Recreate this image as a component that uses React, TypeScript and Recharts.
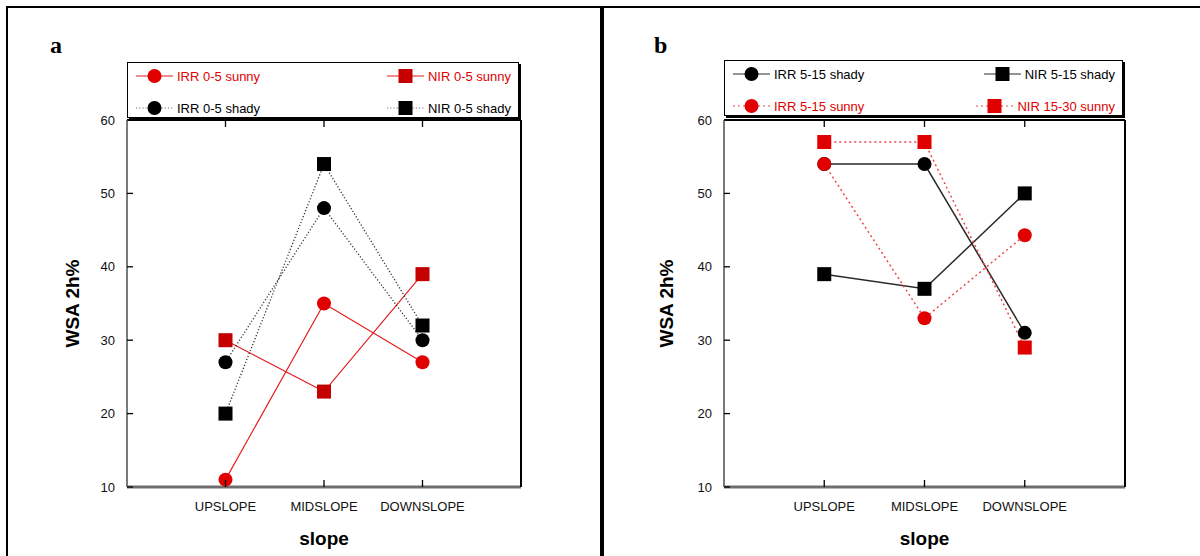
import React from 'react';
import { LineChart, Line, XAxis, YAxis, Legend } from 'recharts';

// categories along the slope, placed at 1..3 on a 0..4 axis
const slopeNames = ['UPSLOPE', 'MIDSLOPE', 'DOWNSLOPE'];
const slopeSteps = [1, 2, 3];
const wsaTicks = [10, 20, 30, 40, 50, 60];

// panel a (0-5 cm)
const irr05Sunny = [11, 35, 27];
const nir05Sunny = [30, 23, 39];
const irr05Shady = [27, 48, 30];
const nir05Shady = [20, 54, 32];

// panel b
const irr515Shady = [54, 54, 31];
const nir515Shady = [39, 37, 50];
const irr515Sunny = [54, 33, 44.3];
const nir1530Sunny = [57, 57, 29];

const SANS = '"Liberation Sans", Arial, sans-serif';
const RED = '#e00000';
const PLOT_TOP = 120;
const PLOT_BOTTOM = 487;

type SeriesDef = {
    key: string;
    name: string;
    values: number[];
    stroke: string;
    mark: string;
    shape: 'circle' | 'square';
    dash?: string;
    width: number;
    text: string;
};

const seriesA: SeriesDef[] = [
    { key: 'irr05Sunny', name: 'IRR 0-5 sunny', values: irr05Sunny, stroke: '#e41c1c', mark: RED, shape: 'circle', width: 1.2, text: RED },
    { key: 'nir05Sunny', name: 'NIR 0-5 sunny', values: nir05Sunny, stroke: '#e41c1c', mark: '#c40000', shape: 'square', width: 1.2, text: RED },
    { key: 'irr05Shady', name: 'IRR 0-5 shady', values: irr05Shady, stroke: '#333', mark: '#000', shape: 'circle', dash: '1.2 2', width: 1.3, text: '#000' },
    { key: 'nir05Shady', name: 'NIR 0-5 shady', values: nir05Shady, stroke: '#333', mark: '#000', shape: 'square', dash: '1.2 2', width: 1.3, text: '#000' },
];

const seriesB: SeriesDef[] = [
    { key: 'irr515Shady', name: 'IRR 5-15 shady', values: irr515Shady, stroke: '#2a2a2a', mark: '#000', shape: 'circle', width: 1.5, text: '#000' },
    { key: 'nir515Shady', name: 'NIR 5-15 shady', values: nir515Shady, stroke: '#2a2a2a', mark: '#000', shape: 'square', width: 1.5, text: '#000' },
    { key: 'irr515Sunny', name: 'IRR 5-15 sunny', values: irr515Sunny, stroke: '#f04848', mark: RED, shape: 'circle', dash: '2 3', width: 1.5, text: RED },
    { key: 'nir1530Sunny', name: 'NIR 15-30 sunny', values: nir1530Sunny, stroke: '#f04848', mark: RED, shape: 'square', dash: '2 3', width: 1.5, text: RED },
];

const buildRows = (series: SeriesDef[]) =>
    slopeSteps.map((x, i) => {
        const row: any = { x, name: slopeNames[i] };
        series.forEach((s) => {
            row[s.key] = s.values[i];
        });
        return row;
    });

const renderMark = (s: SeriesDef) => (p: any) => {
    const k = `${s.key}-${p.index}`;
    if (p.cx == null || p.cy == null) return <g key={k} />;
    return s.shape === 'circle' ? (
        <circle key={k} cx={p.cx} cy={p.cy} r={7} fill={s.mark} />
    ) : (
        <rect key={k} x={p.cx - 7} y={p.cy - 7} width={14} height={14} fill={s.mark} />
    );
};

// ticks point into the plot
const BottomTick = (props: any) => {
    const { x, y, payload } = props;
    return (
        <g>
            <line x1={x} y1={y} x2={x} y2={y - 7} stroke="#000" strokeWidth={1.3} />
            <text x={x} y={y + 24} textAnchor="middle" fontSize={13} fontFamily={SANS} fill="#111">
                {slopeNames[payload.value - 1]}
            </text>
        </g>
    );
};

const TopTick = (props: any) => {
    const { x, y } = props;
    return <line x1={x} y1={y} x2={x} y2={y + 7} stroke="#000" strokeWidth={1.3} />;
};

const LeftTick = (props: any) => {
    const { x, y, payload } = props;
    return (
        <g>
            <line x1={x} y1={y} x2={x + 6} y2={y} stroke="#000" strokeWidth={1.3} />
            <text x={x - 12} y={y + 4.5} textAnchor="end" fontSize={13} fontFamily={SANS} fill="#111">
                {payload.value}
            </text>
        </g>
    );
};

const RightTick = (props: any) => {
    const { x, y } = props;
    return <line x1={x} y1={y} x2={x - 6} y2={y} stroke="#000" strokeWidth={1.3} />;
};

const Sample = ({ s }: { s: SeriesDef }) => (
    <svg width={37} height={16} style={{ display: 'block' }}>
        <line x1={0} y1={8} x2={37} y2={8} stroke={s.dash ? (s.mark === RED ? '#f04848' : '#777') : s.stroke} strokeWidth={1.2} strokeDasharray={s.dash} />
        {s.shape === 'circle' ? (
            <circle cx={18.5} cy={8} r={7} fill={s.mark} />
        ) : (
            <rect x={11.5} y={1} width={14} height={14} fill={s.mark} />
        )}
    </svg>
);

const LegendBox = ({ series }: { series: SeriesDef[] }) => (
    <div
        style={{
            position: 'relative',
            width: '100%',
            height: '100%',
            boxSizing: 'border-box',
            border: '1px solid #000',
            boxShadow: '2px 2px 0 #000',
            background: '#fff',
            fontFamily: SANS,
            fontSize: 13,
        }}
    >
        {series.map((s, i) => {
            const row = Math.floor(i / 2);
            const right = i % 2 === 1;
            return (
                <div
                    key={s.key}
                    style={{
                        position: 'absolute',
                        top: row === 0 ? 5 : 37,
                        height: 16,
                        display: 'flex',
                        alignItems: 'center',
                        gap: 4,
                        color: s.text,
                        whiteSpace: 'nowrap',
                        ...(right ? { right: 7 } : { left: 8 }),
                    }}
                >
                    <Sample s={s} />
                    <span>{s.name}</span>
                </div>
            );
        })}
    </div>
);

type PanelProps = {
    series: SeriesDef[];
    plotLeft: number;
    plotRight: number;
    titleX: number;
    legendTop: number;
};

const Panel = ({ series, plotLeft, plotRight, titleX, legendTop }: PanelProps) => {
    const rows = buildRows(series);
    const leftMargin = 50;
    return (
        <LineChart
            width={600}
            height={556}
            data={rows}
            margin={{ top: PLOT_TOP - 1, right: 600 - plotRight - 1, bottom: 0, left: leftMargin }}
        >
            <XAxis
                xAxisId="bottom"
                dataKey="x"
                type="number"
                domain={[0, 4]}
                ticks={slopeSteps}
                tickSize={0}
                tickMargin={0}
                tickLine={false}
                tick={(p: any) => <BottomTick {...p} />}
                axisLine={{ stroke: '#6e6e6e', strokeWidth: 3 }}
                height={556 - PLOT_BOTTOM}
                label={{
                    value: 'slope',
                    position: 'insideBottom',
                    offset: 11,
                    fontSize: 19,
                    fontWeight: 'bold',
                    fontFamily: SANS,
                    fill: '#000',
                }}
            />
            <XAxis
                xAxisId="top"
                orientation="top"
                dataKey="x"
                type="number"
                domain={[0, 4]}
                ticks={slopeSteps}
                tickSize={0}
                tickMargin={0}
                tickLine={false}
                tick={(p: any) => <TopTick {...p} />}
                axisLine={{ stroke: '#000', strokeWidth: 2 }}
                height={1}
            />
            <YAxis
                yAxisId="left"
                type="number"
                domain={[10, 60]}
                ticks={wsaTicks}
                tickSize={0}
                tickMargin={0}
                tickLine={false}
                tick={(p: any) => <LeftTick {...p} />}
                axisLine={{ stroke: '#7a7a7a', strokeWidth: 2 }}
                width={plotLeft - leftMargin}
                label={() => (
                    <text
                        transform={`translate(${titleX}, ${(PLOT_TOP + PLOT_BOTTOM) / 2}) rotate(-90)`}
                        textAnchor="middle"
                        dominantBaseline="central"
                        fontSize={19}
                        fontWeight="bold"
                        fontFamily={SANS}
                        fill="#000"
                    >
                        WSA 2h%
                    </text>
                )}
            />
            <YAxis
                yAxisId="right"
                orientation="right"
                type="number"
                domain={[10, 60]}
                ticks={wsaTicks}
                tickSize={0}
                tickMargin={0}
                tickLine={false}
                tick={(p: any) => <RightTick {...p} />}
                axisLine={{ stroke: '#000', strokeWidth: 2 }}
                width={1}
            />
            <Legend
                layout="horizontal"
                verticalAlign="middle"
                align="center"
                content={() => <LegendBox series={series} />}
                wrapperStyle={{ left: plotLeft, top: legendTop, width: plotRight - plotLeft - 2, height: 56 }}
            />
            {series.map((s) => (
                <Line
                    key={s.key}
                    xAxisId="bottom"
                    yAxisId="left"
                    type="linear"
                    dataKey={s.key}
                    name={s.name}
                    stroke={s.stroke}
                    strokeWidth={s.width}
                    strokeDasharray={s.dash}
                    dot={renderMark(s)}
                    activeDot={false}
                    isAnimationActive={false}
                />
            ))}
        </LineChart>
    );
};

const letterStyle: React.CSSProperties = {
    position: 'absolute',
    top: 30,
    fontFamily: '"Liberation Serif", "Times New Roman", serif',
    fontWeight: 'bold',
    fontSize: 24,
    lineHeight: '30px',
};

export default function App() {
    return (
        <div style={{ position: 'absolute', left: 0, top: 0, width: 1200, height: 556, background: '#fff', overflow: 'hidden' }}>
            <div style={{ position: 'absolute', left: 0, top: 0 }}>
                <Panel series={seriesA} plotLeft={127} plotRight={521} titleX={72} legendTop={62} />
            </div>
            <div style={{ position: 'absolute', left: 600, top: 0 }}>
                <Panel series={seriesB} plotLeft={124} plotRight={525} titleX={66} legendTop={60} />
            </div>
            <div style={{ ...letterStyle, left: 50 }}>a</div>
            <div style={{ ...letterStyle, left: 654 }}>b</div>
            <div style={{ position: 'absolute', left: 6, top: 6, width: 1194, height: 2, background: '#000' }} />
            <div style={{ position: 'absolute', left: 6, top: 6, width: 2, height: 550, background: '#000' }} />
            <div style={{ position: 'absolute', left: 600, top: 6, width: 4, height: 550, background: '#000' }} />
        </div>
    );
}
